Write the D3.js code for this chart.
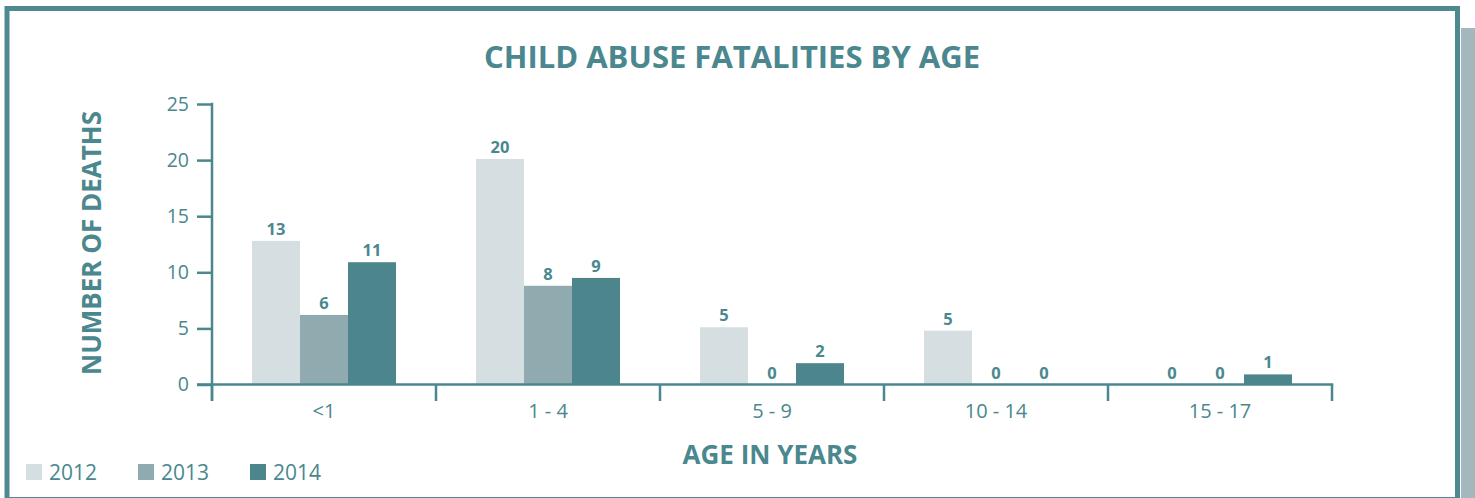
<!doctype html>
<html>
  <head>
    <script src="https://cdnjs.cloudflare.com/ajax/libs/d3/7.8.5/d3.min.js"></script>
    <style>
      body { margin: 0; background: #fff; }
      text { font-family: "Open Sans", "Noto Sans", sans-serif; }
    </style>
  </head>
  <body>
    <svg></svg>
    <script>
      var width = 1475,
          height = 498;

      // data
      var ageGroups = ["<1", "1 - 4", "5 - 9", "10 - 14", "15 - 17"];
      var years = ["2012", "2013", "2014"];
      // printed counts
      var deaths2012 = [13, 20, 5, 5, 0];
      var deaths2013 = [6, 8, 0, 0, 0];
      var deaths2014 = [11, 9, 2, 0, 1];
      // bar heights as drawn in the original
      var bars2012 = [12.8, 20.1, 5.1, 4.8, 0];
      var bars2013 = [6.2, 8.8, 0, 0, 0];
      var bars2014 = [10.9, 9.5, 1.9, 0, 0.9];
      var yTicks = [0, 5, 10, 15, 20, 25];
      var colors = ["#d5dee0", "#8fabb0", "#4c868c"];
      var ink = "#4a878e";

      var labels = [deaths2012, deaths2013, deaths2014];
      var bars = [bars2012, bars2013, bars2014];

      var svg = d3.select("svg").attr("width", width).attr("height", height);

      // side strip + frame
      svg.append("rect").attr("x", 1461).attr("y", 28).attr("width", 14).attr("height", 470)
        .style("fill", "#a2b8bc");
      svg.append("rect").attr("x", 7).attr("y", 8.5).attr("width", 1450.5).attr("height", 491)
        .style("fill", "#fff").style("stroke", "#4e8990").style("stroke-width", 5);

      var x0 = d3.scaleBand().domain(ageGroups).range([212, 1332]);
      var x1 = d3.scaleBand().domain(years).range([40, 184]);
      var y = d3.scaleLinear().domain([0, 25]).range([384.5, 104]);

      //タイトル
      svg.append("text").attr("x", 732).attr("y", 68)
        .attr("text-anchor", "middle").style("font-size", "31px").style("font-weight", "bold")
        .style("fill", ink).text("CHILD ABUSE FATALITIES BY AGE");

      //棒
      var rows = [];
      ageGroups.forEach(function (g, i) {
        years.forEach(function (yr, j) {
          rows.push({ group: g, year: yr, j: j, bar: bars[j][i], label: labels[j][i] });
        });
      });

      svg.selectAll("rect.bar").data(rows).enter().append("rect")
        .attr("class", "bar")
        .attr("x", d => x0(d.group) + x1(d.year))
        .attr("y", d => y(d.bar))
        .attr("width", x1.bandwidth())
        .attr("height", d => y(0) - y(d.bar))
        .style("fill", d => colors[d.j]);

      svg.selectAll("text.val").data(rows).enter().append("text")
        .attr("class", "val")
        .attr("x", d => x0(d.group) + x1(d.year) + x1.bandwidth() / 2)
        .attr("y", d => y(d.bar) - 6)
        .attr("text-anchor", "middle")
        .style("font-size", "16.5px").style("font-weight", "bold").style("fill", ink)
        .text(d => d.label);

      // y axis
      var yAxis = d3.axisLeft(y).tickValues(yTicks).tickSize(15).tickPadding(8);
      var gy = svg.append("g").attr("transform", "translate(212,0)").call(yAxis);
      gy.select(".domain").remove();
      gy.selectAll("line").style("stroke", ink).style("stroke-width", 2.5);
      gy.selectAll("text").style("font-size", "19.5px").style("fill", ink)
        .style("font-family", "'Open Sans', sans-serif");
      svg.append("line").attr("x1", 212).attr("x2", 212).attr("y1", 102.75).attr("y2", 401)
        .style("stroke", ink).style("stroke-width", 2.5);

      // x axis
      svg.append("line").attr("x1", 197).attr("x2", 1333.25).attr("y1", 384.5).attr("y2", 384.5)
        .style("stroke", ink).style("stroke-width", 2.5);
      var edges = ageGroups.map(g => x0(g)).concat([1332]);
      svg.selectAll("line.xt").data(edges).enter().append("line")
        .attr("class", "xt")
        .attr("x1", d => d).attr("x2", d => d).attr("y1", 384.5).attr("y2", 401)
        .style("stroke", ink).style("stroke-width", 2.5);
      svg.selectAll("text.cat").data(ageGroups).enter().append("text")
        .attr("class", "cat")
        .attr("x", d => x0(d) + x0.bandwidth() / 2).attr("y", 418)
        .attr("text-anchor", "middle").style("font-size", "20px").style("fill", ink)
        .text(d => d);

      // axis titles
      svg.append("text").attr("x", 770).attr("y", 464)
        .attr("text-anchor", "middle").style("font-size", "26px").style("font-weight", "bold")
        .style("fill", ink).text("AGE IN YEARS");
      svg.append("text").attr("transform", "translate(101,243) rotate(-90)")
        .attr("text-anchor", "middle").style("font-size", "26px").style("font-weight", "bold")
        .style("fill", ink).text("NUMBER OF DEATHS");

      // legend
      var legX = [26, 138, 250];
      var leg = svg.selectAll("g.leg").data(years).enter().append("g")
        .attr("class", "leg")
        .attr("transform", (d, i) => "translate(" + legX[i] + ",464)");
      leg.append("rect").attr("width", 16).attr("height", 16).style("fill", (d, i) => colors[i]);
      leg.append("text").attr("x", 23).attr("y", 16).style("font-size", "21px").style("fill", ink)
        .text(d => d);
    </script>
  </body>
</html>
